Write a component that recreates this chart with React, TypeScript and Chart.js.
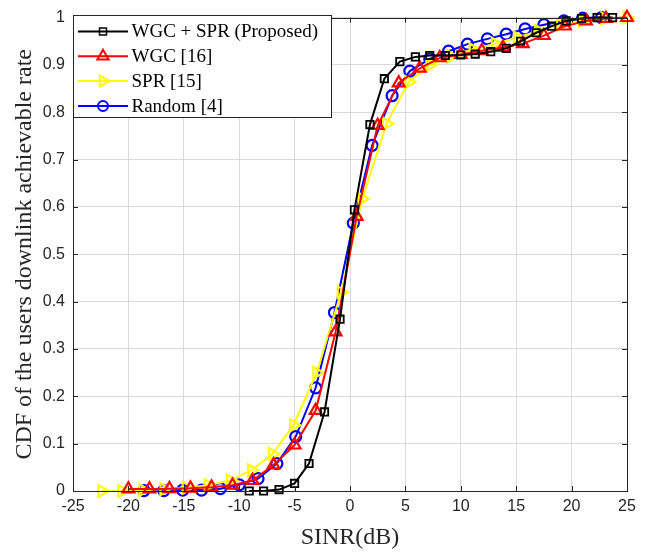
import React, { useEffect, useRef } from "react";
import { Chart, registerables } from "chart.js";

Chart.register(...registerables);

// ---- Data ----
const xTickStep = 5;
const yTickStep = 0.1;

const seriesLabels = ["WGC + SPR (Proposed)", "WGC [16]", "SPR [15]", "Random [4]"];

const blackX = [-9.1, -7.8, -6.4, -5.0, -3.7, -2.3, -0.9, 0.4, 1.8, 3.1, 4.5, 5.9, 7.2, 8.6, 10.0, 11.3, 12.7, 14.1, 15.4, 16.8, 18.2, 19.5, 20.9, 22.3, 23.7];
const blackY = [0.0, 0.0, 0.003, 0.016, 0.058, 0.167, 0.363, 0.594, 0.774, 0.871, 0.907, 0.917, 0.92, 0.92, 0.921, 0.923, 0.928, 0.935, 0.95, 0.968, 0.982, 0.993, 0.998, 1.0, 1.0];

const redX = [-20.0, -18.1, -16.3, -14.4, -12.5, -10.6, -8.8, -6.9, -5.0, -3.1, -1.3, 0.6, 2.5, 4.4, 6.3, 8.1, 10.0, 11.9, 13.8, 15.6, 17.5, 19.4, 21.3, 23.1, 25.0];
const redY = [0.004, 0.004, 0.005, 0.006, 0.008, 0.012, 0.022, 0.055, 0.097, 0.17, 0.336, 0.58, 0.772, 0.862, 0.893, 0.915, 0.922, 0.93, 0.937, 0.945, 0.962, 0.982, 0.993, 0.998, 1.0];

const yellowX = [-22.4, -20.6, -18.7, -16.8, -14.8, -12.8, -10.8, -8.9, -7.0, -5.1, -3.0, -0.8, 1.1, 3.3, 5.3, 7.2, 9.1, 11.1, 13.1, 15.1, 17.0, 19.0, 21.0, 23.0, 25.0];
const yellowY = [0.0, 0.0, 0.002, 0.004, 0.007, 0.012, 0.022, 0.044, 0.078, 0.139, 0.25, 0.42, 0.617, 0.776, 0.864, 0.9, 0.918, 0.933, 0.945, 0.958, 0.972, 0.985, 0.993, 0.998, 1.0];

const blueX = [-18.6, -16.8, -15.1, -13.4, -11.7, -10.0, -8.3, -6.6, -4.9, -3.1, -1.4, 0.3, 2.0, 3.8, 5.4, 7.2, 8.9, 10.6, 12.4, 14.1, 15.8, 17.5, 19.3, 21.0, 22.7];
const blueY = [0.001, 0.001, 0.002, 0.002, 0.005, 0.013, 0.026, 0.058, 0.115, 0.218, 0.377, 0.566, 0.73, 0.835, 0.887, 0.913, 0.929, 0.944, 0.955, 0.965, 0.976, 0.985, 0.993, 0.999, 1.0];

const AXIS_COLOR = "#262626";
const GRID_COLOR = "#d9d9d9";
const SANS = "'Liberation Sans', Arial, sans-serif";
const SERIF = "'Liberation Serif', 'Times New Roman', serif";

type Style = { color: string; marker: string };
const styles: Style[] = [
  { color: "#000000", marker: "square" },
  { color: "#ff0000", marker: "triUp" },
  { color: "#ffff00", marker: "triRight" },
  { color: "#0000ff", marker: "circle" },
];

function zip(xs: number[], ys: number[]) {
  return xs.map((x, i) => ({ x, y: ys[i] }));
}

function drawMarker(ctx: CanvasRenderingContext2D, kind: string, x: number, y: number, color: string) {
  ctx.save();
  ctx.strokeStyle = color;
  ctx.lineWidth = kind === "square" ? 1.5 : 2;
  ctx.beginPath();
  if (kind === "square") {
    ctx.rect(x - 3.5, y - 3.5, 7, 7);
  } else if (kind === "circle") {
    ctx.arc(x, y, 5, 0, Math.PI * 2);
  } else if (kind === "triUp") {
    const r = 6.5;
    ctx.moveTo(x, y - r);
    ctx.lineTo(x + r * 0.866, y + r * 0.5);
    ctx.lineTo(x - r * 0.866, y + r * 0.5);
    ctx.closePath();
  } else {
    const r = 6.5;
    ctx.moveTo(x + r, y);
    ctx.lineTo(x - r * 0.5, y + r * 0.866);
    ctx.lineTo(x - r * 0.5, y - r * 0.866);
    ctx.closePath();
  }
  ctx.stroke();
  ctx.restore();
}

const framePlugin = {
  id: "matlabFrame",
  afterDraw(chart: any) {
    const { ctx, chartArea: a, scales } = chart;
    ctx.save();
    // Box
    ctx.strokeStyle = AXIS_COLOR;
    ctx.lineWidth = 1;
    ctx.strokeRect(Math.round(a.left) + 0.5, Math.round(a.top) + 0.5, Math.round(a.right - a.left), Math.round(a.bottom - a.top));
    // Inward ticks
    const tl = 5;
    ctx.beginPath();
    scales.x.ticks.forEach((t: any) => {
      const px = Math.round(scales.x.getPixelForValue(t.value)) + 0.5;
      ctx.moveTo(px, a.bottom);
      ctx.lineTo(px, a.bottom - tl);
      ctx.moveTo(px, a.top);
      ctx.lineTo(px, a.top + tl);
    });
    scales.y.ticks.forEach((t: any) => {
      const py = Math.round(scales.y.getPixelForValue(t.value)) + 0.5;
      ctx.moveTo(a.left, py);
      ctx.lineTo(a.left + tl, py);
      ctx.moveTo(a.right, py);
      ctx.lineTo(a.right - tl, py);
    });
    ctx.stroke();

    // Legend
    const lx = Math.round(a.left) + 0.5;
    const ly = 15.5;
    const lw = 258;
    const lh = 102;
    ctx.fillStyle = "#ffffff";
    ctx.fillRect(lx, ly, lw, lh);
    ctx.strokeStyle = AXIS_COLOR;
    ctx.lineWidth = 1;
    ctx.strokeRect(lx, ly, lw, lh);
    ctx.font = `19px ${SERIF}`;
    ctx.textBaseline = "middle";
    ctx.textAlign = "left";
    seriesLabels.forEach((label, i) => {
      const yy = 31.5 + 24.8 * i;
      const st = styles[i];
      ctx.strokeStyle = st.color;
      ctx.lineWidth = 2;
      ctx.beginPath();
      ctx.moveTo(78, yy);
      ctx.lineTo(128, yy);
      ctx.stroke();
      drawMarker(ctx, st.marker, 103, yy, st.color);
      ctx.fillStyle = "#000000";
      ctx.fillText(label, 131.5, yy + 1);
    });
    ctx.restore();
  },
};

export default function App() {
  const ref = useRef<HTMLCanvasElement | null>(null);

  useEffect(() => {
    if (!ref.current) return;
    const pointFor = (kind: string) => {
      if (kind === "square") return { pointStyle: "rect", pointRadius: 5.2, pointRotation: 0, pointBorderWidth: 1.8 };
      if (kind === "circle") return { pointStyle: "circle", pointRadius: 5.5, pointRotation: 0, pointBorderWidth: 2.2 };
      if (kind === "triUp") return { pointStyle: "triangle", pointRadius: 6.8, pointRotation: 0, pointBorderWidth: 2.2 };
      return { pointStyle: "triangle", pointRadius: 6.8, pointRotation: 90, pointBorderWidth: 2.2 };
    };
    const xs = [blackX, redX, yellowX, blueX];
    const ys = [blackY, redY, yellowY, blueY];
    const datasets = seriesLabels.map((label, i) => ({
      label,
      data: zip(xs[i], ys[i]),
      borderColor: styles[i].color,
      backgroundColor: "transparent",
      pointBorderColor: styles[i].color,
      pointBackgroundColor: "transparent",
      borderWidth: 2,
      tension: 0,
      clip: false as any,
      ...pointFor(styles[i].marker),
    }));

    const tickFont = { family: SANS, size: 16 };
    const titleFont = { family: SERIF, size: 24, weight: "normal" as any };

    const chart = new Chart(ref.current, {
      type: "line",
      data: { datasets },
      plugins: [framePlugin],
      options: {
        animation: false,
        responsive: false,
        maintainAspectRatio: false,
        events: [],
        layout: { padding: { top: 17, right: 28, left: 0, bottom: 0 } },
        plugins: { legend: { display: false }, tooltip: { enabled: false } },
        scales: {
          x: {
            type: "linear",
            min: -25,
            max: 25,
            ticks: { stepSize: xTickStep, padding: 6, font: tickFont, color: AXIS_COLOR, maxRotation: 0, autoSkip: false },
            grid: { color: GRID_COLOR, drawTicks: false, lineWidth: 1 },
            border: { display: false },
            title: { display: true, text: "SINR(dB)", font: titleFont, color: AXIS_COLOR, padding: { top: 0, bottom: 1 } },
            afterFit: (s: any) => { s.height = 62; },
          },
          y: {
            type: "linear",
            min: 0,
            max: 1,
            ticks: {
              stepSize: yTickStep,
              padding: 8,
              font: tickFont,
              color: AXIS_COLOR,
              autoSkip: false,
              callback: (v: any) => String(Number(Number(v).toFixed(1))),
            },
            grid: { color: GRID_COLOR, drawTicks: false, lineWidth: 1 },
            border: { display: false },
            title: { display: true, text: "CDF of the users downlink achievable rate", font: titleFont, color: AXIS_COLOR, padding: { top: 10, bottom: 0 } },
            afterFit: (s: any) => { s.width = 73; },
          },
        },
      } as any,
    });
    return () => chart.destroy();
  }, []);

  return (
    <div style={{ position: "fixed", left: 0, top: 0, width: 655, height: 553, background: "#ffffff" }}>
      <canvas ref={ref} width={655} height={553} style={{ display: "block", width: 655, height: 553 }} />
    </div>
  );
}
